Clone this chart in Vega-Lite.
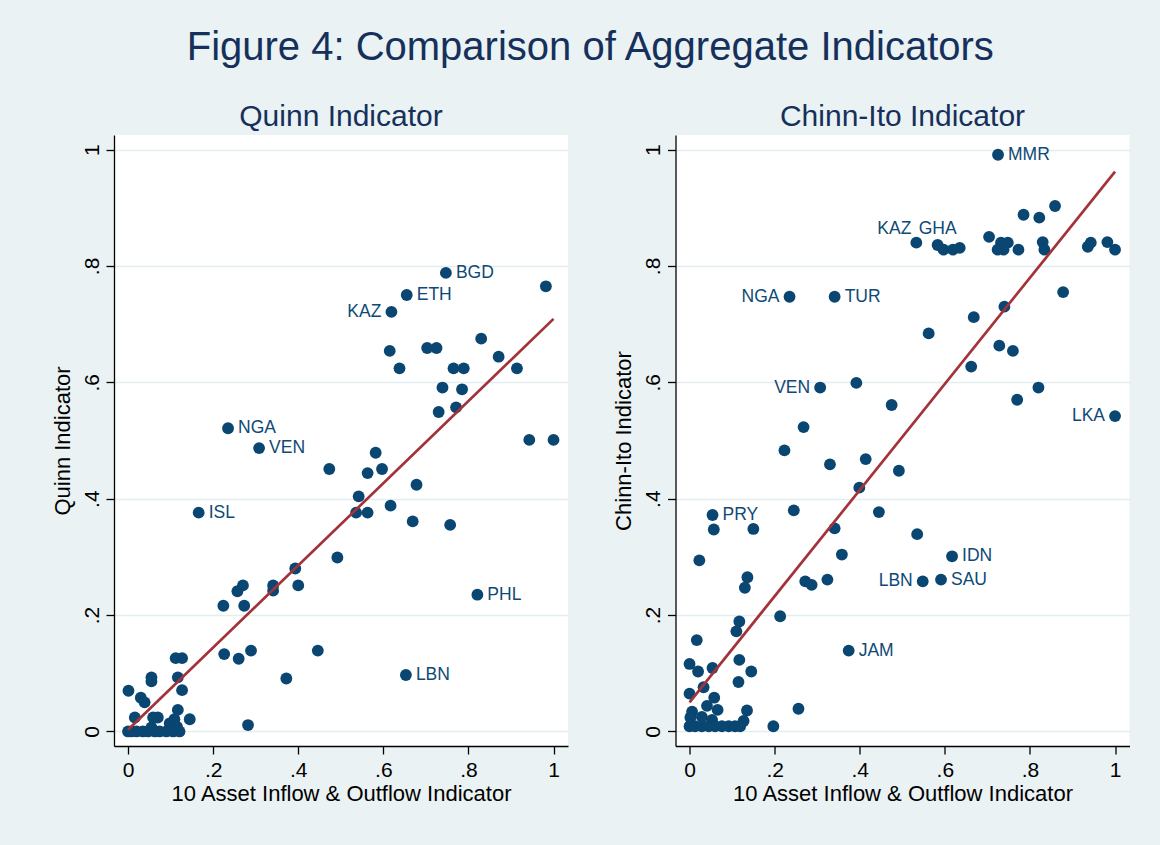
{
  "$schema": "https://vega.github.io/schema/vega-lite/v6.json",
  "background": "#EAF2F3",
  "padding": {"left": 51, "top": 28, "right": 31, "bottom": 42},
  "title": {"text": "Figure 4: Comparison of Aggregate Indicators", "fontSize": 40, "fontWeight": "normal", "color": "#16305C", "font": "Liberation Sans", "offset": 34, "anchor": "middle"},
  "spacing": 44.5,
  "config": {
    "font": "Liberation Sans",
    "view": {"stroke": null, "fill": "white"},
    "axis": {"domainColor": "black", "domainWidth": 1.3, "tickColor": "black", "tickWidth": 1.3, "tickSize": 8, "labelFontSize": 21, "labelColor": "black", "titleFontSize": 22, "titleFontWeight": "normal", "titleColor": "black", "labelFont": "Liberation Sans", "titleFont": "Liberation Sans"},
    "title": {"fontSize": 30, "fontWeight": "normal", "color": "#16305C", "offset": 3}
  },
  "datasets": {
    "quinn": [
      {"x": 0.747, "y": 0.788, "label": "BGD"},
      {"x": 0.982, "y": 0.765, "label": ""},
      {"x": 0.655, "y": 0.750, "label": "ETH"},
      {"x": 0.619, "y": 0.721, "label": "KAZ"},
      {"x": 0.830, "y": 0.675, "label": ""},
      {"x": 0.615, "y": 0.654, "label": ""},
      {"x": 0.703, "y": 0.659, "label": ""},
      {"x": 0.725, "y": 0.659, "label": ""},
      {"x": 0.871, "y": 0.644, "label": ""},
      {"x": 0.638, "y": 0.624, "label": ""},
      {"x": 0.765, "y": 0.624, "label": ""},
      {"x": 0.789, "y": 0.624, "label": ""},
      {"x": 0.914, "y": 0.624, "label": ""},
      {"x": 0.739, "y": 0.591, "label": ""},
      {"x": 0.785, "y": 0.588, "label": ""},
      {"x": 0.771, "y": 0.557, "label": ""},
      {"x": 0.730, "y": 0.549, "label": ""},
      {"x": 0.235, "y": 0.521, "label": "NGA"},
      {"x": 0.308, "y": 0.487, "label": "VEN"},
      {"x": 0.943, "y": 0.501, "label": ""},
      {"x": 1.000, "y": 0.501, "label": ""},
      {"x": 0.582, "y": 0.479, "label": ""},
      {"x": 0.473, "y": 0.451, "label": ""},
      {"x": 0.563, "y": 0.444, "label": ""},
      {"x": 0.597, "y": 0.451, "label": ""},
      {"x": 0.678, "y": 0.424, "label": ""},
      {"x": 0.542, "y": 0.404, "label": ""},
      {"x": 0.166, "y": 0.376, "label": "ISL"},
      {"x": 0.536, "y": 0.376, "label": ""},
      {"x": 0.563, "y": 0.376, "label": ""},
      {"x": 0.617, "y": 0.388, "label": ""},
      {"x": 0.669, "y": 0.361, "label": ""},
      {"x": 0.757, "y": 0.355, "label": ""},
      {"x": 0.492, "y": 0.299, "label": ""},
      {"x": 0.393, "y": 0.280, "label": ""},
      {"x": 0.270, "y": 0.251, "label": ""},
      {"x": 0.257, "y": 0.241, "label": ""},
      {"x": 0.341, "y": 0.251, "label": ""},
      {"x": 0.341, "y": 0.242, "label": ""},
      {"x": 0.400, "y": 0.251, "label": ""},
      {"x": 0.821, "y": 0.235, "label": "PHL"},
      {"x": 0.224, "y": 0.216, "label": ""},
      {"x": 0.273, "y": 0.216, "label": ""},
      {"x": 0.226, "y": 0.133, "label": ""},
      {"x": 0.260, "y": 0.125, "label": ""},
      {"x": 0.289, "y": 0.139, "label": ""},
      {"x": 0.446, "y": 0.139, "label": ""},
      {"x": 0.372, "y": 0.091, "label": ""},
      {"x": 0.653, "y": 0.097, "label": "LBN"},
      {"x": 0.282, "y": 0.011, "label": ""},
      {"x": 0.112, "y": 0.126, "label": ""},
      {"x": 0.127, "y": 0.126, "label": ""},
      {"x": 0.055, "y": 0.093, "label": ""},
      {"x": 0.055, "y": 0.086, "label": ""},
      {"x": 0.117, "y": 0.093, "label": ""},
      {"x": 0.001, "y": 0.070, "label": ""},
      {"x": 0.127, "y": 0.071, "label": ""},
      {"x": 0.030, "y": 0.058, "label": ""},
      {"x": 0.039, "y": 0.050, "label": ""},
      {"x": 0.117, "y": 0.037, "label": ""},
      {"x": 0.016, "y": 0.024, "label": ""},
      {"x": 0.059, "y": 0.024, "label": ""},
      {"x": 0.070, "y": 0.024, "label": ""},
      {"x": 0.109, "y": 0.021, "label": ""},
      {"x": 0.145, "y": 0.021, "label": ""},
      {"x": 0.098, "y": 0.014, "label": ""},
      {"x": 0.055, "y": 0.007, "label": ""},
      {"x": 0.115, "y": 0.008, "label": ""},
      {"x": 0.000, "y": 0.000, "label": ""},
      {"x": 0.008, "y": 0.000, "label": ""},
      {"x": 0.020, "y": 0.000, "label": ""},
      {"x": 0.035, "y": 0.000, "label": ""},
      {"x": 0.047, "y": 0.000, "label": ""},
      {"x": 0.063, "y": 0.000, "label": ""},
      {"x": 0.074, "y": 0.000, "label": ""},
      {"x": 0.090, "y": 0.000, "label": ""},
      {"x": 0.106, "y": 0.000, "label": ""},
      {"x": 0.121, "y": 0.000, "label": ""}
    ],
    "quinnFit": [{"x": 0, "y": 0.003}, {"x": 1, "y": 0.709}],
    "chinn": [
      {"x": 0.725, "y": 0.991, "label": "MMR"},
      {"x": 0.859, "y": 0.903, "label": ""},
      {"x": 0.785, "y": 0.888, "label": ""},
      {"x": 0.822, "y": 0.883, "label": ""},
      {"x": 0.533, "y": 0.840, "label": "KAZ"},
      {"x": 0.583, "y": 0.836, "label": "GHA"},
      {"x": 0.597, "y": 0.828, "label": ""},
      {"x": 0.619, "y": 0.828, "label": ""},
      {"x": 0.635, "y": 0.831, "label": ""},
      {"x": 0.704, "y": 0.850, "label": ""},
      {"x": 0.732, "y": 0.840, "label": ""},
      {"x": 0.748, "y": 0.840, "label": ""},
      {"x": 0.724, "y": 0.828, "label": ""},
      {"x": 0.738, "y": 0.828, "label": ""},
      {"x": 0.773, "y": 0.828, "label": ""},
      {"x": 0.830, "y": 0.841, "label": ""},
      {"x": 0.834, "y": 0.828, "label": ""},
      {"x": 0.936, "y": 0.833, "label": ""},
      {"x": 0.943, "y": 0.840, "label": ""},
      {"x": 0.982, "y": 0.841, "label": ""},
      {"x": 1.000, "y": 0.828, "label": ""},
      {"x": 0.235, "y": 0.747, "label": "NGA"},
      {"x": 0.341, "y": 0.747, "label": "TUR"},
      {"x": 0.878, "y": 0.755, "label": ""},
      {"x": 0.740, "y": 0.730, "label": ""},
      {"x": 0.668, "y": 0.712, "label": ""},
      {"x": 0.562, "y": 0.684, "label": ""},
      {"x": 0.728, "y": 0.663, "label": ""},
      {"x": 0.760, "y": 0.654, "label": ""},
      {"x": 0.662, "y": 0.627, "label": ""},
      {"x": 0.307, "y": 0.591, "label": "VEN"},
      {"x": 0.392, "y": 0.599, "label": ""},
      {"x": 0.820, "y": 0.591, "label": ""},
      {"x": 0.770, "y": 0.570, "label": ""},
      {"x": 0.475, "y": 0.561, "label": ""},
      {"x": 1.000, "y": 0.542, "label": "LKA"},
      {"x": 0.268, "y": 0.523, "label": ""},
      {"x": 0.223, "y": 0.483, "label": ""},
      {"x": 0.330, "y": 0.459, "label": ""},
      {"x": 0.414, "y": 0.468, "label": ""},
      {"x": 0.492, "y": 0.448, "label": ""},
      {"x": 0.399, "y": 0.419, "label": ""},
      {"x": 0.054, "y": 0.372, "label": "PRY"},
      {"x": 0.057, "y": 0.347, "label": ""},
      {"x": 0.150, "y": 0.348, "label": ""},
      {"x": 0.245, "y": 0.380, "label": ""},
      {"x": 0.445, "y": 0.377, "label": ""},
      {"x": 0.341, "y": 0.349, "label": ""},
      {"x": 0.535, "y": 0.339, "label": ""},
      {"x": 0.023, "y": 0.294, "label": ""},
      {"x": 0.358, "y": 0.304, "label": ""},
      {"x": 0.617, "y": 0.301, "label": "IDN"},
      {"x": 0.136, "y": 0.265, "label": ""},
      {"x": 0.130, "y": 0.247, "label": ""},
      {"x": 0.272, "y": 0.258, "label": ""},
      {"x": 0.287, "y": 0.252, "label": ""},
      {"x": 0.324, "y": 0.261, "label": ""},
      {"x": 0.548, "y": 0.258, "label": "LBN"},
      {"x": 0.591, "y": 0.261, "label": "SAU"},
      {"x": 0.213, "y": 0.198, "label": ""},
      {"x": 0.117, "y": 0.189, "label": ""},
      {"x": 0.110, "y": 0.172, "label": ""},
      {"x": 0.017, "y": 0.157, "label": ""},
      {"x": 0.374, "y": 0.139, "label": "JAM"},
      {"x": 0.117, "y": 0.123, "label": ""},
      {"x": 0.000, "y": 0.116, "label": ""},
      {"x": 0.020, "y": 0.103, "label": ""},
      {"x": 0.054, "y": 0.109, "label": ""},
      {"x": 0.145, "y": 0.103, "label": ""},
      {"x": 0.115, "y": 0.085, "label": ""},
      {"x": 0.033, "y": 0.076, "label": ""},
      {"x": 0.000, "y": 0.065, "label": ""},
      {"x": 0.058, "y": 0.058, "label": ""},
      {"x": 0.041, "y": 0.044, "label": ""},
      {"x": 0.066, "y": 0.037, "label": ""},
      {"x": 0.006, "y": 0.034, "label": ""},
      {"x": 0.135, "y": 0.036, "label": ""},
      {"x": 0.256, "y": 0.039, "label": ""},
      {"x": 0.029, "y": 0.025, "label": ""},
      {"x": 0.053, "y": 0.020, "label": ""},
      {"x": 0.002, "y": 0.024, "label": ""},
      {"x": 0.127, "y": 0.018, "label": ""},
      {"x": 0.197, "y": 0.009, "label": ""},
      {"x": 0.000, "y": 0.009, "label": ""},
      {"x": 0.013, "y": 0.009, "label": ""},
      {"x": 0.029, "y": 0.009, "label": ""},
      {"x": 0.045, "y": 0.009, "label": ""},
      {"x": 0.060, "y": 0.009, "label": ""},
      {"x": 0.076, "y": 0.009, "label": ""},
      {"x": 0.092, "y": 0.009, "label": ""},
      {"x": 0.107, "y": 0.009, "label": ""},
      {"x": 0.119, "y": 0.009, "label": ""}
    ],
    "chinnFit": [{"x": 0, "y": 0.050}, {"x": 1, "y": 0.962}]
  },
  "hconcat": [
    {
      "width": 454,
      "height": 611,
      "title": {"text": "Quinn Indicator"},
      "layer": [
        {
          "data": {"name": "quinn"},
          "mark": {"type": "circle", "size": 140, "color": "#0A4672", "opacity": 1},
          "encoding": {
            "x": {"field": "x", "type": "quantitative", "scale": {"domain": [-0.033, 1.034], "nice": false, "zero": false},
              "axis": {"title": "10 Asset Inflow & Outflow Indicator", "values": [0, 0.2, 0.4, 0.6, 0.8, 1], "grid": false, "labelPadding": 5, "titlePadding": 3, "labelExpr": "replace(format(datum.value, '.1~f'), '0.', '.')"}},
            "y": {"field": "y", "type": "quantitative", "scale": {"domain": [-0.025, 1.025], "nice": false, "zero": false},
              "axis": {"title": "Quinn Indicator", "values": [0, 0.2, 0.4, 0.6, 0.8, 1], "grid": true, "gridColor": "#E4EDF0", "gridWidth": 1.5, "labelAngle": 270, "labelAlign": "center", "labelBaseline": "bottom", "labelPadding": 4, "titlePadding": 7, "labelExpr": "replace(format(datum.value, '.1~f'), '0.', '.')"}}
          }
        },
        {
          "data": {"name": "quinnFit"},
          "mark": {"type": "line", "color": "#A3333A", "strokeWidth": 2.7},
          "encoding": {"x": {"field": "x", "type": "quantitative"}, "y": {"field": "y", "type": "quantitative"}}
        },
        {
          "data": {"name": "quinn"},
          "transform": [{"filter": {"field": "label", "oneOf": ["BGD", "ETH", "NGA", "VEN", "ISL", "PHL", "LBN"]}}],
          "mark": {"type": "text", "align": "left", "baseline": "middle", "dx": 10, "fontSize": 17.5, "color": "#0E4A75"},
          "encoding": {"x": {"field": "x", "type": "quantitative"}, "y": {"field": "y", "type": "quantitative"}, "text": {"field": "label"}}
        },
        {
          "data": {"name": "quinn"},
          "transform": [{"filter": {"field": "label", "oneOf": ["KAZ"]}}],
          "mark": {"type": "text", "align": "right", "baseline": "middle", "dx": -10, "fontSize": 17.5, "color": "#0E4A75"},
          "encoding": {"x": {"field": "x", "type": "quantitative"}, "y": {"field": "y", "type": "quantitative"}, "text": {"field": "label"}}
        }
      ]
    },
    {
      "width": 454,
      "height": 611,
      "title": {"text": "Chinn-Ito Indicator"},
      "layer": [
        {
          "data": {"name": "chinn"},
          "mark": {"type": "circle", "size": 140, "color": "#0A4672", "opacity": 1},
          "encoding": {
            "x": {"field": "x", "type": "quantitative", "scale": {"domain": [-0.033, 1.034], "nice": false, "zero": false},
              "axis": {"title": "10 Asset Inflow & Outflow Indicator", "values": [0, 0.2, 0.4, 0.6, 0.8, 1], "grid": false, "labelPadding": 5, "titlePadding": 3, "labelExpr": "replace(format(datum.value, '.1~f'), '0.', '.')"}},
            "y": {"field": "y", "type": "quantitative", "scale": {"domain": [-0.025, 1.025], "nice": false, "zero": false},
              "axis": {"title": "Chinn-Ito Indicator", "values": [0, 0.2, 0.4, 0.6, 0.8, 1], "grid": true, "gridColor": "#E4EDF0", "gridWidth": 1.5, "labelAngle": 270, "labelAlign": "center", "labelBaseline": "bottom", "labelPadding": 4, "titlePadding": 7, "labelExpr": "replace(format(datum.value, '.1~f'), '0.', '.')"}}
          }
        },
        {
          "data": {"name": "chinnFit"},
          "mark": {"type": "line", "color": "#A3333A", "strokeWidth": 2.7},
          "encoding": {"x": {"field": "x", "type": "quantitative"}, "y": {"field": "y", "type": "quantitative"}}
        },
        {
          "data": {"name": "chinn"},
          "transform": [{"filter": {"field": "label", "oneOf": ["MMR", "TUR", "PRY", "IDN", "SAU", "JAM"]}}],
          "mark": {"type": "text", "align": "left", "baseline": "middle", "dx": 10, "fontSize": 17.5, "color": "#0E4A75"},
          "encoding": {"x": {"field": "x", "type": "quantitative"}, "y": {"field": "y", "type": "quantitative"}, "text": {"field": "label"}}
        },
        {
          "data": {"name": "chinn"},
          "transform": [{"filter": {"field": "label", "oneOf": ["NGA", "VEN", "LKA", "LBN"]}}],
          "mark": {"type": "text", "align": "right", "baseline": "middle", "dx": -10, "fontSize": 17.5, "color": "#0E4A75"},
          "encoding": {"x": {"field": "x", "type": "quantitative"}, "y": {"field": "y", "type": "quantitative"}, "text": {"field": "label"}}
        },
        {
          "data": {"name": "chinn"},
          "transform": [{"filter": {"field": "label", "oneOf": ["KAZ"]}}],
          "mark": {"type": "text", "align": "right", "baseline": "middle", "dx": -5, "dy": -14, "fontSize": 17.5, "color": "#0E4A75"},
          "encoding": {"x": {"field": "x", "type": "quantitative"}, "y": {"field": "y", "type": "quantitative"}, "text": {"field": "label"}}
        },
        {
          "data": {"name": "chinn"},
          "transform": [{"filter": {"field": "label", "oneOf": ["GHA"]}}],
          "mark": {"type": "text", "align": "center", "baseline": "middle", "dy": -16, "fontSize": 17.5, "color": "#0E4A75"},
          "encoding": {"x": {"field": "x", "type": "quantitative"}, "y": {"field": "y", "type": "quantitative"}, "text": {"field": "label"}}
        }
      ]
    }
  ]
}
